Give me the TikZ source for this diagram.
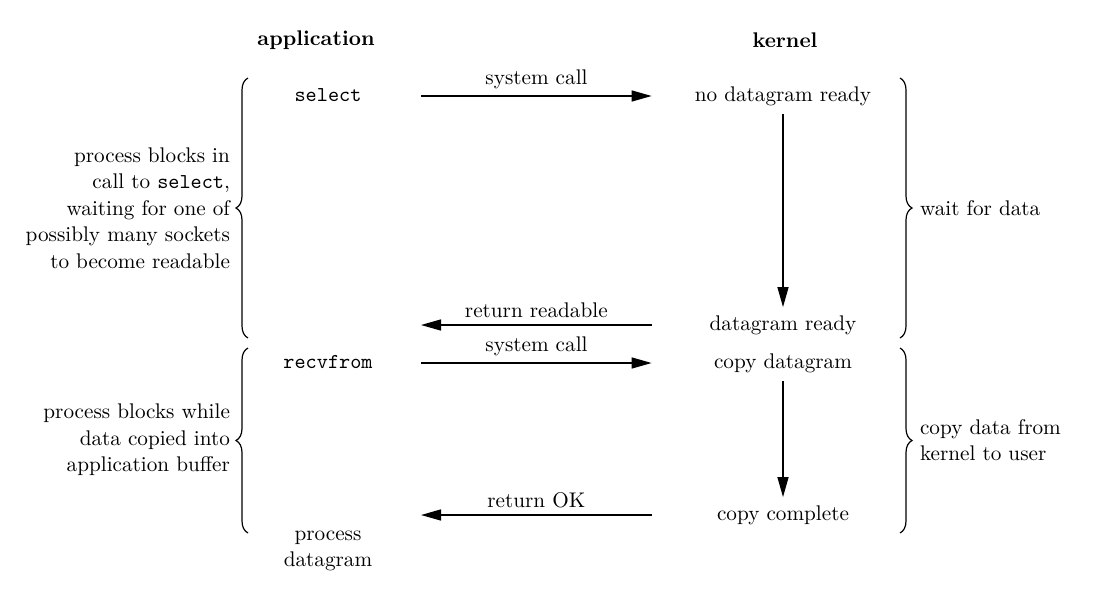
\documentclass[tikz,border=0pt]{standalone}
\usepackage{tikz}
\usetikzlibrary{arrows.meta}
\usetikzlibrary{decorations.pathreplacing}

\begin{document}
\begin{tikzpicture}[x=0.5pt,y=-0.5pt,
			every node/.style={font=\fontsize{10.6}{13.25}\selectfont},
			app/.style={inner sep=0pt,minimum width=93pt,text height=7.5pt,text depth=2pt},
			kern/.style={inner xsep=0pt,inner ysep=4pt,minimum width=131pt,text height=7.5pt,text depth=2pt},
			call/.style={line width=0.7pt,-{Triangle[length=10pt,width=5.5pt]}},
			brc/.style={decorate,decoration={brace,amplitude=6pt,aspect=0.5},line width=0.6pt}]
			\useasboundingbox (0,0) rectangle (1112,595);
			
			% headings
			
			\node[font=\fontsize{10.6}{13.25}\selectfont\bfseries] (hA) at (316,40) {application};
			\node[font=\fontsize{10.6}{13.25}\selectfont\bfseries] (hK) at (785,40) {kernel};
			
			% wait for data
			
			\node[app] (sel) at (328,96) {\texttt{select}};
			\node[kern] (nodr) at (783,96) {no datagram ready};
			\node[kern] (dgr) at (783,325) {datagram ready};
			\coordinate (R1) at (421,325);
			\draw[call] (sel) -- node[above] {system call} (nodr);
			\draw[call] (nodr) -- (dgr);
			\draw[call] (dgr) -- node[above] {return readable} (R1);
			
			% copy data
			
			\node[app] (recv) at (328,363) {\texttt{recvfrom}};
			\node[kern] (cpd) at (783,363) {copy datagram};
			\node[kern] (cpc) at (783,515) {copy complete};
			\coordinate (R2) at (421,515);
			\draw[call] (recv) -- node[above] {system call} (cpd);
			\draw[call] (cpd) -- (cpc);
			\draw[call] (cpc) -- node[above] {return OK} (R2);
			
			\node[align=center] (PD) at (328,551) {process\\datagram};
			
			% braces
			
			\draw[brc] (248,338) -- (248,78);
			\draw[brc] (248,533) -- (248,348);
			\draw[brc] (900,78) -- (900,338);
			\draw[brc] (900,348) -- (900,533);
			
			\node[align=right,anchor=east] (W1) at (237,208) {process blocks in\\call to \texttt{select},\\waiting for one of\\possibly many sockets\\to become readable};
			\node[align=right,anchor=east] (W2) at (237,440) {process blocks while\\data copied into\\application buffer};
			\node[align=left,anchor=west] (K1) at (913,208) {wait for data};
			\node[align=left,anchor=west] (K2) at (913,440) {copy data from\\kernel to user};
		\end{tikzpicture}
\end{document}
